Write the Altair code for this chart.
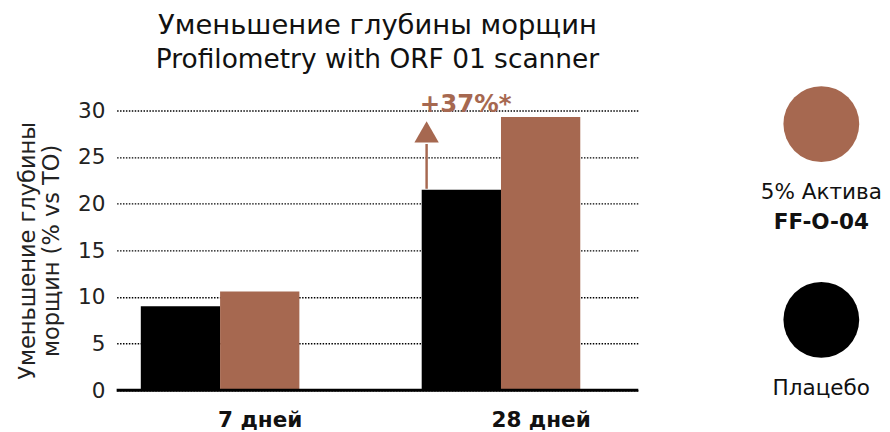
import altair as alt
import pandas as pd

periods = ["7 дней", "28 дней"]
series = ["Плацебо", "5% Актива"]
placebo = [9.0, 21.5]
active = [10.6, 29.3]
colors = ["#000000", "#A66850"]

ann_period = ["28 дней"]
ann_from = [21.6]
ann_to = [26.4]
ann_head = [27.7]
ann_text_y = [30.7]
ann_text = ["+37%*"]

legend_series = ["5% Актива", "Плацебо"]
legend_colors = ["#A66850", "#000000"]
legend_line1 = ["5% Актива", "Плацебо"]
legend_line2 = ["FF-O-04", ""]

FONT = "DejaVu Sans"
BROWN = "#A66850"

rows = []
for i, p in enumerate(periods):
    rows.append({"period": p, "series": series[0], "value": placebo[i]})
    rows.append({"period": p, "series": series[1], "value": active[i]})
df = pd.DataFrame(rows)

ann = pd.DataFrame({"period": ann_period, "y0": ann_from, "y1": ann_to,
                    "yh": ann_head, "ty": ann_text_y, "label": ann_text})

W, H = 533, 286

xscale = alt.Scale(domain=periods, paddingInner=0.4355, paddingOuter=0.1463, align=0.294)
yscale = alt.Scale(domain=[0, 30])

bars = alt.Chart(df).mark_bar().encode(
    x=alt.X("period:N", scale=xscale, sort=periods,
            axis=alt.Axis(title=None, domain=False, ticks=False, labelAngle=0,
                          labelFontSize=22, labelFontWeight="bold", labelColor="#111",
                          labelFont=FONT, labelPadding=20, labelOffset=41)),
    xOffset=alt.XOffset("series:N", sort=series),
    y=alt.Y("value:Q", scale=yscale,
            axis=alt.Axis(values=[0, 5, 10, 15, 20, 25, 30], domain=False, ticks=False,
                          grid=True, gridColor="#000", gridDash=[1.5, 1.5], gridWidth=1.5,
                          labelFontSize=22, labelColor="#222", labelFont=FONT, labelPadding=12,
                          title=["Уменьшение глубины", "морщин (% vs TO)"],
                          titleFontSize=23, titleFontWeight="normal", titleColor="#222",
                          titleFont=FONT, titlePadding=14, titleLineHeight=25)),
    color=alt.Color("series:N", scale=alt.Scale(domain=series, range=colors), legend=None),
)

base_rule = alt.Chart(pd.DataFrame({"z": [0]})).mark_rule(color="#000", strokeWidth=3).encode(
    y=alt.Y("z:Q", scale=yscale), x=alt.value(0), x2=alt.value(W)
)

shaft = alt.Chart(ann).mark_rule(color=BROWN, strokeWidth=2.5, xOffset=-76).encode(
    x=alt.X("period:N", scale=xscale), y=alt.Y("y0:Q", scale=yscale), y2="y1:Q"
)
head = alt.Chart(ann).mark_point(shape="triangle-up", filled=True, color=BROWN, opacity=1,
                                 size=620, xOffset=-76).encode(
    x=alt.X("period:N", scale=xscale), y=alt.Y("yh:Q", scale=yscale)
)
txt = alt.Chart(ann).mark_text(color=BROWN, fontSize=25, fontWeight="bold", font=FONT,
                               xOffset=-36, baseline="middle").encode(
    x=alt.X("period:N", scale=xscale), y=alt.Y("ty:Q", scale=yscale), text="label:N"
)

main = alt.layer(bars, base_rule, shaft, head, txt).properties(
    width=W, height=H,
    title=alt.TitleParams(text="Уменьшение глубины морщин",
                          subtitle="Profilometry with ORF 01 scanner",
                          anchor="middle", fontSize=28, subtitleFontSize=27,
                          font=FONT, subtitleFont=FONT, fontWeight="normal",
                          color="#111", subtitleColor="#111", offset=20, subtitlePadding=7),
)

leg = pd.DataFrame({"series": legend_series, "color": legend_colors,
                    "l1": legend_line1, "l2": legend_line2})
lyscale = alt.Scale(type="point", domain=legend_series, range=[14, 214], padding=0)
lbase = alt.Chart(leg).encode(
    y=alt.Y("series:N", scale=lyscale, axis=None, sort=legend_series),
    x=alt.value(55),
)
circles = lbase.mark_circle(size=6000, opacity=1).encode(
    color=alt.Color("color:N", scale=None)
)
l1 = lbase.mark_text(fontSize=22, font=FONT, color="#111", dy=70).encode(text="l1:N")
l2 = lbase.mark_text(fontSize=22, font=FONT, color="#111", fontWeight="bold", dy=100).encode(text="l2:N")
legend = alt.layer(circles, l1, l2).properties(width=110, height=H)

chart = alt.hconcat(main, legend, spacing=123).properties(
    padding={"left": 9, "top": 0, "right": 0, "bottom": 0}
).configure_view(stroke=None)

chart.save("out.html", embed_options={"renderer": "svg", "actions": False})
